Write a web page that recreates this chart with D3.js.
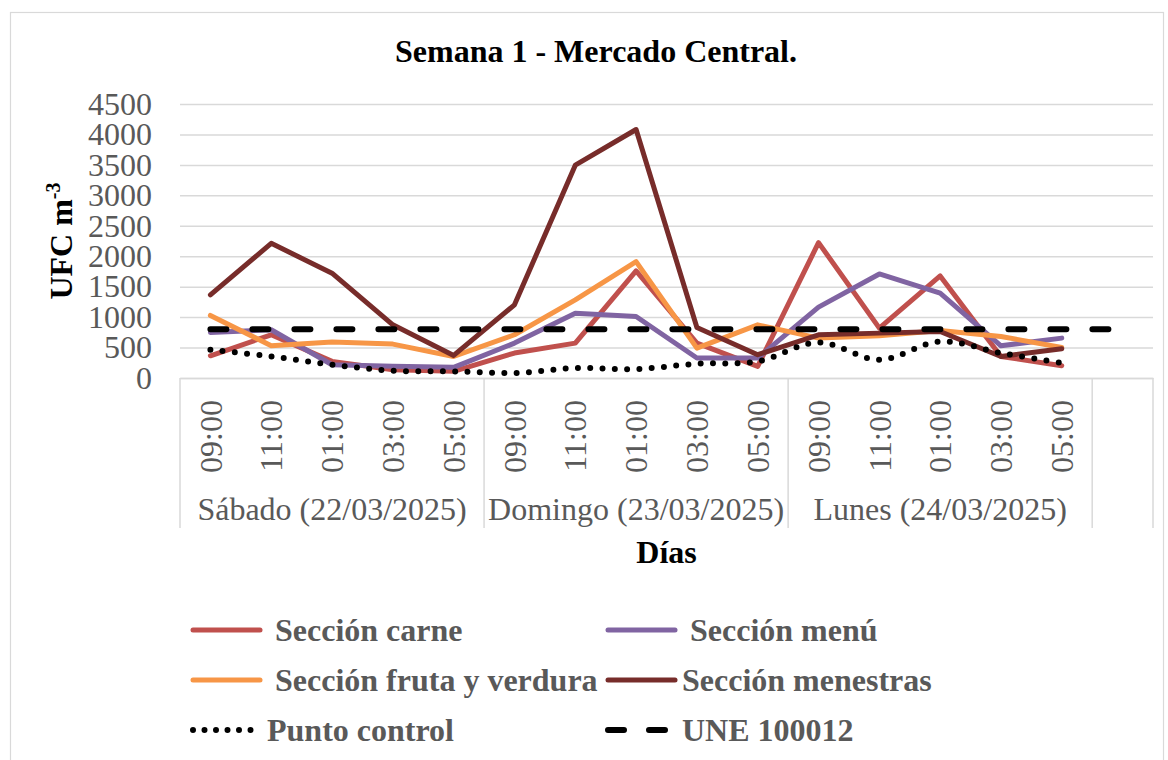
<!DOCTYPE html>
<html>
<head>
<meta charset="utf-8">
<script src="https://cdn.jsdelivr.net/npm/d3@7"></script>
<style>
body { margin: 0; background: #fff; }
svg text { font-family: "Liberation Serif", "Times New Roman", serif; }
</style>
</head>
<body>
<div class="canvas"></div>
<script>
// categories
const days = ['Sábado (22/03/2025)', 'Domingo (23/03/2025)', 'Lunes (24/03/2025)']
const hours = ['09:00', '11:00', '01:00', '03:00', '05:00']
const yTicks = [0, 500, 1000, 1500, 2000, 2500, 3000, 3500, 4000, 4500]

// series values (UFC m-3)
const carne = [365, 710, 273, 136, 109, 410, 573, 1759, 573, 191, 2223, 819, 1677, 354, 202]
const menu = [748, 792, 218, 191, 175, 573, 1065, 1010, 328, 328, 1164, 1709, 1393, 529, 655]
const fruta = [1027, 530, 590, 557, 354, 710, 1283, 1911, 491, 873, 655, 693, 781, 682, 502]
const menestras = [1365, 2212, 1721, 873, 371, 1201, 3496, 4081, 830, 382, 710, 737, 764, 354, 480]
const control = [464, 354, 218, 120, 109, 82, 164, 147, 234, 273, 584, 300, 600, 410, 246]
const une = [800, 800, 800, 800, 800, 800, 800, 800, 800, 800, 800, 800, 800, 800, 800, 800]

const seriesNames = ['Sección carne', 'Sección menú', 'Sección fruta y verdura', 'Sección menestras', 'Punto control', 'UNE 100012']

const svg = d3.select('.canvas').append('svg').attr('width', 1168).attr('height', 760)

// chart frame
svg.append('rect')
    .attr('x', 10.5).attr('y', 12.5)
    .attr('width', 1153).attr('height', 800)
    .attr('fill', 'none').attr('stroke', '#d9d9d9').attr('stroke-width', 1.2)

const plot = { left: 180, right: 1153, top: 104, bottom: 378 }
const gridColor = '#d9d9d9'
const labelColor = '#595959'

// one category per day/hour, plus the empty one at the end
const cats = []
days.forEach((d, i) => hours.forEach((h, j) => cats.push({ key: `${i}-${j}`, hour: h, day: i })))
cats.push({ key: 'blank', hour: '', day: -1 })

const x = d3.scaleBand()
    .domain(cats.map(c => c.key))
    .range([plot.left, plot.right])

const y = d3.scaleLinear()
    .domain([0, 4500])
    .range([plot.bottom, plot.top])

const cx = i => x(cats[i].key) + x.bandwidth() / 2

// title
svg.append('text')
    .attr('x', 596).attr('y', 62)
    .attr('text-anchor', 'middle')
    .attr('font-size', 32).attr('font-weight', 'bold')
    .text('Semana 1 - Mercado Central.')

// y axis + gridlines
const yAxisGroup = svg.append('g').attr('transform', `translate(${plot.left}, 0)`)
yAxisGroup.call(d3.axisLeft(y).tickValues(yTicks).tickFormat(d3.format('d'))
    .tickSize(-(plot.right - plot.left)).tickPadding(28))
yAxisGroup.select('.domain').remove()
yAxisGroup.selectAll('line').attr('stroke', gridColor).attr('stroke-width', 1.5)
yAxisGroup.selectAll('text')
    .attr('font-size', 32).attr('fill', labelColor)
    .style('font-family', '"Liberation Serif", "Times New Roman", serif')

// y axis title
const yTitle = svg.append('text')
    .attr('transform', `translate(72, 241) rotate(-90)`)
    .attr('text-anchor', 'middle')
    .attr('font-size', 32).attr('font-weight', 'bold')
yTitle.append('tspan').text('UFC m')
yTitle.append('tspan').attr('font-size', 20).attr('dy', -12).text('-3')

// x axis (hours)
const xAxisGroup = svg.append('g').attr('transform', `translate(0, ${plot.bottom})`)
xAxisGroup.call(d3.axisBottom(x).tickSize(0).tickFormat(k => cats.find(c => c.key === k).hour))
xAxisGroup.select('.domain').attr('stroke', gridColor).attr('stroke-width', 1.5)
xAxisGroup.selectAll('text')
    .attr('transform', 'rotate(-90)')
    .attr('text-anchor', 'end')
    .attr('x', -22).attr('y', 0).attr('dy', '0.35em')
    .attr('font-size', 32).attr('fill', labelColor)
    .style('font-family', '"Liberation Serif", "Times New Roman", serif')

// day separators and labels
const bounds = [x('0-0'), x('1-0'), x('2-0'), x('blank'), plot.right]
svg.append('g').selectAll('line').data(bounds).enter().append('line')
    .attr('x1', d => d).attr('x2', d => d)
    .attr('y1', plot.bottom).attr('y2', 528)
    .attr('stroke', gridColor).attr('stroke-width', 1.5)

svg.append('g').selectAll('text').data(days).enter().append('text')
    .attr('x', (d, i) => (bounds[i] + bounds[i + 1]) / 2)
    .attr('y', 520)
    .attr('text-anchor', 'middle')
    .attr('font-size', 32).attr('fill', labelColor)
    .text(d => d)

svg.append('text')
    .attr('x', (plot.left + plot.right) / 2).attr('y', 563)
    .attr('text-anchor', 'middle')
    .attr('font-size', 32).attr('font-weight', 'bold')
    .text('Días')

// series
const styles = [
    { color: '#c0504d', width: 5, dash: null },
    { color: '#8064a2', width: 5, dash: null },
    { color: '#f79646', width: 5, dash: null },
    { color: '#772c2a', width: 5, dash: null },
    { color: '#000', width: 6, dash: '0 12.3', curve: true },
    { color: '#000', width: 6, dash: '16 26' }
]
const values = [carne, menu, fruta, menestras, control, une]

const lines = svg.append('g')
values.forEach((vals, s) => {
    const st = styles[s]
    const line = d3.line()
        .x((d, i) => cx(i))
        .y(d => y(d))
        .curve(st.curve ? d3.curveCardinal.tension(0) : d3.curveLinear)
    lines.append('path')
        .datum(vals)
        .attr('d', line)
        .attr('fill', 'none')
        .attr('stroke', st.color)
        .attr('stroke-width', st.width)
        .attr('stroke-linecap', 'round')
        .attr('stroke-linejoin', 'round')
        .attr('stroke-dasharray', st.dash)
})

// legend
const legendCols = [190, 605]
const legendRows = [630, 680, 730]
const legend = svg.append('g')
seriesNames.forEach((name, s) => {
    const st = styles[s]
    const lx = legendCols[s % 2]
    const ly = legendRows[Math.floor(s / 2)]
    const len = s === 5 ? 64 : 70
    legend.append('line')
        .attr('x1', lx + 3).attr('x2', lx + len)
        .attr('y1', ly).attr('y2', ly)
        .attr('stroke', st.color)
        .attr('stroke-width', st.width)
        .attr('stroke-linecap', 'round')
        .attr('stroke-dasharray', s === 4 ? '0 11.5' : s === 5 ? '16 25' : null)
    legend.append('text')
        .attr('x', lx + (s % 2 === 0 ? (s === 4 ? 77 : 85) : (s === 1 ? 85 : 77)))
        .attr('y', ly).attr('dy', '0.35em')
        .attr('font-size', 32).attr('font-weight', 'bold')
        .attr('fill', labelColor)
        .text(name)
})
</script>
</body>
</html>
